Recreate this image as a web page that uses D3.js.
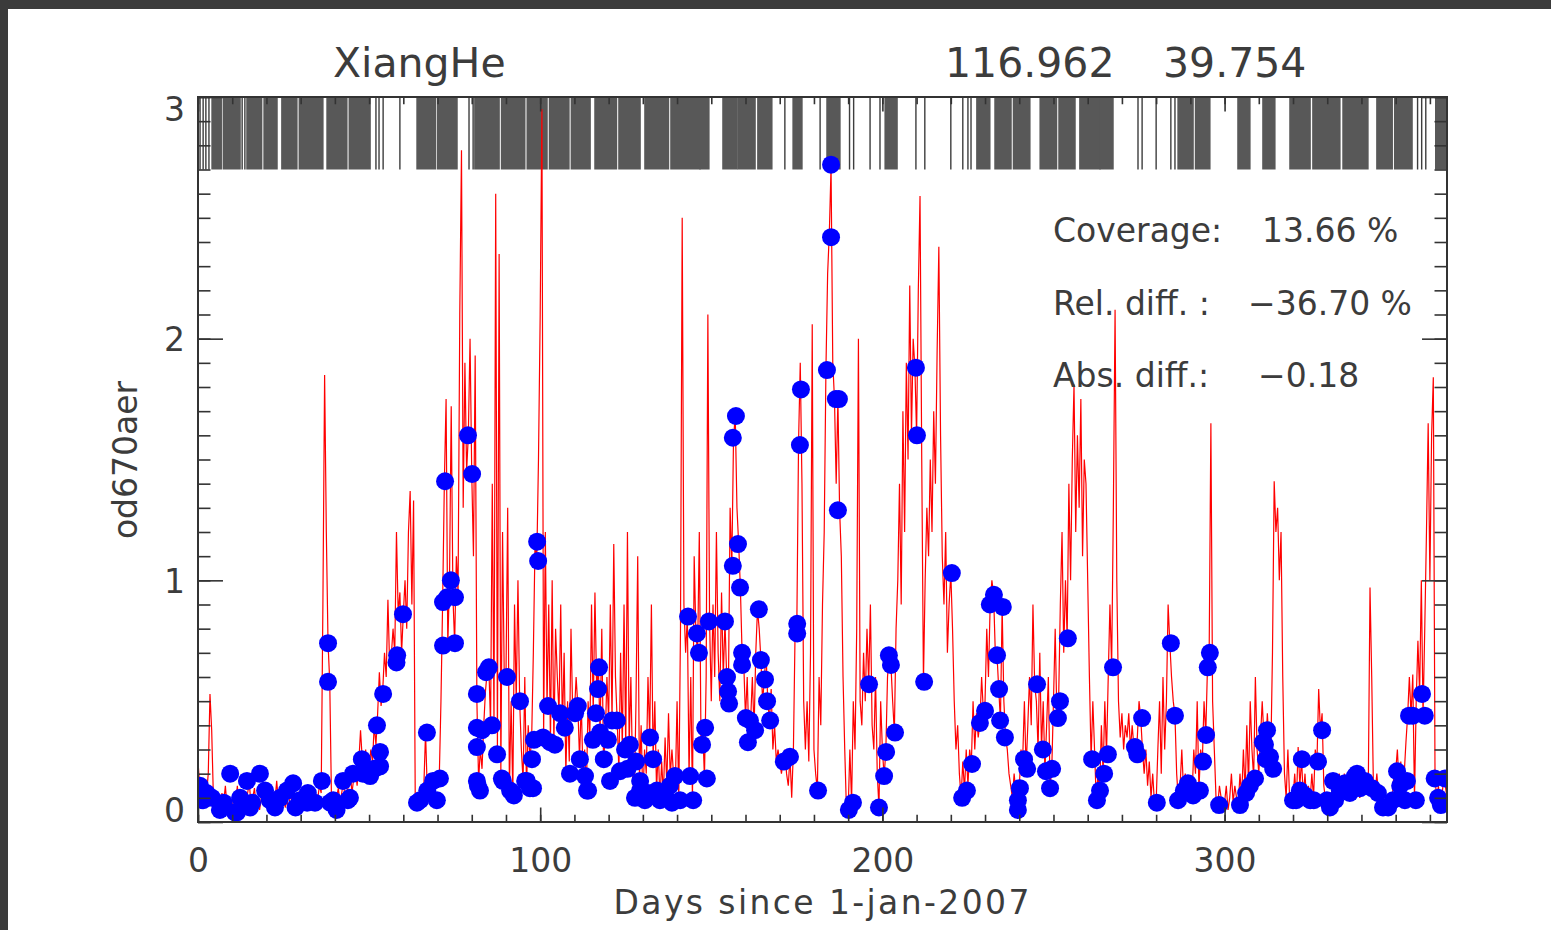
<!DOCTYPE html>
<html>
<head>
<meta charset="utf-8">
<script src="https://cdn.jsdelivr.net/npm/d3@7"></script>
<style>
body { margin: 0; background: #fff; }
text { font-family: "DejaVu Sans", sans-serif; fill: #3c3c3c; }
</style>
</head>
<body>
<svg width="1551" height="930"></svg>
<script>
// ---- data ----
var stationName = "XiangHe";
var stationCoords = ["116.962", "39.754"];
var xTitle = "Days since 1-jan-2007";
var yTitle = "od670aer";
var xTickValues = [0, 100, 200, 300];
var yTickValues = [0, 1, 2, 3];
var statLabels = ["Coverage:", "Rel. diff. :", "Abs. diff.:"];
var statValues = ["13.66 %", "\u221236.70 %", "\u22120.18"];

// model od670aer, one value every half day from day 0 to 365
var modelStep = 0.5;
var modelValues = [
0.25,0.15,0.12,0.14,0.10,0.12,0.20,0.53,0.38,0.10,0.08,0.06,0.10,0.05,0.12,0.08,0.15,0.06,0.10,0.08,
0.05,0.12,0.08,0.15,0.06,0.10,0.13,0.05,0.08,0.12,0.16,0.07,0.10,0.14,0.06,0.09,0.05,0.10,0.07,0.12,
0.08,0.05,0.10,0.06,0.12,0.09,0.17,0.08,0.12,0.07,0.10,0.06,0.09,0.05,0.12,0.08,0.10,0.06,0.09,0.12,
0.10,0.07,0.12,0.08,0.10,0.06,0.12,0.09,0.14,0.08,0.10,0.15,0.12,0.90,1.85,1.20,0.74,0.58,0.10,0.08,
0.06,0.10,0.14,0.08,0.12,0.17,0.09,0.12,0.15,0.20,0.12,0.18,0.22,0.15,0.25,0.38,0.26,0.20,0.30,0.18,
0.22,0.30,0.25,0.40,0.32,0.45,0.62,0.48,0.55,0.70,0.60,0.92,0.65,0.69,0.80,0.70,1.20,0.86,0.95,0.70,
0.86,1.00,0.80,1.20,1.37,0.90,1.33,0.05,0.08,0.06,0.12,0.09,0.15,0.37,0.13,0.20,0.17,0.10,0.09,0.15,
0.15,0.18,0.50,0.92,1.41,1.75,0.73,1.00,1.72,0.93,0.74,1.10,0.95,2.10,2.78,1.30,1.90,1.45,1.60,2.00,
1.44,1.10,1.93,0.50,0.17,0.30,0.22,0.40,0.54,0.62,0.64,0.40,1.40,0.40,2.60,0.30,2.35,0.20,1.20,0.60,
0.60,1.30,0.13,0.50,0.11,0.90,0.50,1.00,0.50,0.30,0.17,0.60,0.14,0.40,0.26,0.34,0.70,1.16,1.08,1.50,
2.10,2.95,0.35,1.20,0.48,0.90,0.33,1.00,0.32,0.80,0.60,0.45,0.90,0.39,0.70,0.20,0.50,0.25,0.80,0.45,
0.45,0.60,0.48,0.26,0.50,0.19,0.30,0.13,0.50,0.34,0.90,0.45,0.95,0.55,0.64,0.37,0.80,0.26,0.34,0.60,
0.42,0.90,0.42,1.15,0.60,0.42,0.21,0.70,0.30,0.90,0.30,1.20,0.32,0.60,0.20,0.10,0.50,1.10,0.17,0.40,
0.09,0.30,0.20,0.60,0.35,0.90,0.26,0.50,0.13,0.30,0.09,0.25,0.11,0.35,0.15,0.45,0.19,0.30,0.19,0.15,
0.50,0.09,0.80,2.50,0.90,0.70,0.85,0.19,0.60,0.09,1.10,0.78,0.70,1.20,0.32,0.39,0.18,0.60,2.10,0.83,
0.50,0.90,0.60,1.20,0.70,0.50,0.95,0.60,0.83,0.60,0.54,1.30,1.06,1.59,1.68,1.30,1.15,0.97,0.70,0.65,
0.43,0.60,0.33,0.42,0.60,0.38,0.70,0.88,0.80,0.67,0.50,0.59,0.70,0.50,0.42,0.55,0.30,0.40,0.25,0.30,
0.25,0.20,0.25,0.30,0.20,0.15,0.27,0.10,0.30,0.80,0.82,1.57,1.90,1.40,0.50,0.30,0.50,0.25,0.70,2.06,
0.30,0.20,0.13,0.60,0.40,0.90,1.20,1.87,2.27,2.44,2.71,1.90,1.75,1.40,1.75,1.29,1.10,0.60,0.30,0.05,
0.05,0.30,0.08,0.50,0.30,0.80,2.00,0.50,0.40,0.70,0.50,0.80,0.57,0.90,0.40,0.30,0.60,0.20,0.06,0.50,
0.30,0.19,0.29,0.60,0.69,0.65,0.50,0.37,0.80,1.00,1.40,0.90,1.70,1.20,1.90,1.50,2.22,1.60,2.00,1.88,
1.60,2.20,2.59,1.50,0.58,1.00,1.30,1.10,1.50,1.20,1.70,1.40,1.95,2.38,1.60,1.10,0.90,1.20,0.70,0.90,
1.03,0.80,0.50,0.30,0.40,0.20,0.10,0.25,0.13,0.30,0.15,0.30,0.24,0.50,0.30,0.45,0.35,0.41,0.60,0.46,
0.50,0.80,0.60,0.90,1.00,0.94,0.70,0.69,0.55,0.42,0.89,0.50,0.35,0.30,0.20,0.15,0.10,0.20,0.12,0.09,
0.14,0.30,0.26,0.50,0.22,0.40,0.60,0.40,0.90,0.57,0.50,0.30,0.70,0.30,0.50,0.21,0.40,0.60,0.14,0.22,
0.50,0.80,0.43,0.50,0.90,1.20,0.70,1.00,0.76,1.40,1.00,1.50,1.81,1.20,1.60,1.30,1.75,1.10,1.50,1.40,
1.00,0.60,0.26,0.50,0.30,0.09,0.20,0.13,0.40,0.20,0.50,0.28,0.60,0.90,0.64,1.30,2.12,1.00,0.50,0.35,
0.45,0.30,0.40,0.35,0.45,0.30,0.40,0.31,0.28,0.35,0.50,0.43,0.30,0.20,0.30,0.15,0.25,0.10,0.20,0.08,
0.08,0.30,0.50,0.20,0.60,0.30,0.50,0.90,0.74,0.60,0.50,0.44,0.20,0.09,0.15,0.30,0.13,0.20,0.16,0.10,
0.15,0.11,0.30,0.20,0.50,0.13,0.30,0.25,0.50,0.36,0.64,0.70,1.65,0.50,0.30,0.10,0.07,0.15,0.10,0.05,
0.08,0.15,0.05,0.10,0.20,0.08,0.15,0.10,0.07,0.20,0.10,0.30,0.12,0.40,0.15,0.50,0.30,0.18,0.60,0.30,
0.20,0.35,0.50,0.35,0.30,0.45,0.32,0.27,0.70,1.41,1.20,1.30,1.00,1.20,0.60,0.20,0.10,0.30,0.10,0.12,
0.10,0.20,0.09,0.31,0.15,0.26,0.10,0.20,0.08,0.15,0.09,0.20,0.10,0.30,0.25,0.55,0.38,0.45,0.15,0.09,
0.06,0.12,0.09,0.15,0.10,0.18,0.13,0.20,0.16,0.12,0.20,0.12,0.15,0.10,0.20,0.15,0.19,0.12,0.15,0.10,
0.14,0.17,0.12,0.20,0.15,0.97,0.60,0.14,0.12,0.20,0.10,0.07,0.12,0.06,0.10,0.05,0.09,0.05,0.10,0.20,
0.21,0.30,0.15,0.25,0.10,0.20,0.33,0.44,0.60,0.44,0.61,0.09,0.50,0.75,0.53,1.00,0.44,0.80,1.20,1.65,
1.00,1.60,1.84,0.18,0.10,0.15,0.07,0.10,0.18,0.15,0.10
];

// observations [day, od670aer]
var obsPoints = [
[0.6,0.15],[1.5,0.09],[2.5,0.12],[4.1,0.10],[6.4,0.05],[7.5,0.08],[9.4,0.20],[10.8,0.04],[11.4,0.04],
[12.3,0.10],[14.3,0.17],[15.2,0.06],[15.8,0.08],[18.1,0.20],[19.6,0.13],[21.0,0.09],[22.5,0.06],
[24.0,0.10],[26.0,0.13],[27.8,0.16],[28.5,0.06],[29.8,0.09],[31.9,0.08],[32.1,0.12],[34.2,0.08],
[36.2,0.17],[38.0,0.74],[38.0,0.58],[38.6,0.08],[39.5,0.09],[40.5,0.05],[42.4,0.17],[43.8,0.09],
[44.4,0.10],[45.3,0.20],[47.9,0.26],[48.2,0.20],[50.3,0.19],[51.5,0.22],[52.3,0.40],[53.2,0.29],
[53.2,0.23],[54.1,0.53],[58.2,0.69],[58.0,0.66],[59.9,0.86],
[64.0,0.08],[64.9,0.09],[66.9,0.37],[67.0,0.13],[68.7,0.17],[69.8,0.09],[70.7,0.18],[72.2,1.41],
[71.6,0.91],[72.8,0.93],[71.6,0.73],[73.9,1.00],[75.1,0.93],[75.1,0.74],[78.9,1.60],[80.1,1.44],
[81.5,0.53],[81.5,0.39],[81.5,0.31],[81.5,0.17],[81.8,0.15],[82.4,0.13],[83.0,0.38],[84.2,0.62],
[85.0,0.64],[85.9,0.40],[87.4,0.28],[88.8,0.18],[89.1,0.17],[90.3,0.60],[91.2,0.13],[92.1,0.12],
[92.3,0.11],[94.1,0.50],[95.6,0.17],[96.1,0.17],[97.0,0.14],[97.6,0.26],[97.9,0.14],[98.2,0.34],
[99.1,1.16],[99.4,1.08],[100.8,0.35],[102.3,0.48],[102.9,0.33],[104.3,0.32],[105.8,0.45],[107.2,0.39],
[108.7,0.20],[110.2,0.45],[111.0,0.48],[111.6,0.26],[113.1,0.19],[113.7,0.13],[114.0,0.13],[115.4,0.34],
[116.3,0.45],[116.9,0.55],[117.2,0.64],[117.5,0.37],[118.6,0.26],[119.8,0.34],[120.4,0.17],[121.0,0.42],
[122.4,0.42],[123.3,0.21],[124.8,0.30],[125.5,0.22],[126.2,0.32],[127.7,0.10],[128.0,0.25],[129.2,0.17],
[129.2,0.13],[130.6,0.09],[131.5,0.12],[132.1,0.35],[133.0,0.26],[134.1,0.13],[135.0,0.09],[136.5,0.11],
[137.9,0.15],[138.5,0.08],[139.4,0.19],[140.9,0.09],[143.2,0.85],[143.8,0.19],[144.7,0.09],[145.8,0.78],
[146.4,0.70],[147.3,0.32],[148.2,0.39],[148.7,0.18],[149.3,0.83],
[154.0,0.83],[154.6,0.60],[154.9,0.54],[155.2,0.49],[156.3,1.06],[157.2,1.68],[156.3,1.59],[157.8,1.15],
[158.4,0.97],[159.0,0.70],[159.0,0.65],[160.1,0.43],[160.7,0.33],[161.3,0.42],[162.8,0.38],[163.9,0.88],
[164.5,0.67],[165.7,0.59],[166.3,0.50],[167.2,0.42],[171.2,0.25],[173.0,0.27],[175.1,0.82],[175.1,0.78],
[175.9,1.56],[176.2,1.79],[181.2,0.13],[183.8,1.87],[185.0,2.72],[185.0,2.42],[186.4,1.75],[187.3,1.75],
[187.0,1.29],[190.2,0.05],[191.4,0.08],[196.1,0.57],[199.0,0.06],[200.5,0.19],[201.1,0.29],[201.9,0.69],
[202.5,0.65],[203.7,0.37],[209.8,1.88],[210.1,1.60],[212.2,0.58],[220.3,1.03],[223.3,0.10],[224.7,0.13],
[226.2,0.24],[228.5,0.41],[230.0,0.46],[231.4,0.90],[232.6,0.94],[233.5,0.69],[234.1,0.55],[234.4,0.42],
[235.2,0.89],[235.8,0.35],[239.6,0.09],[239.6,0.05],[240.2,0.14],[241.4,0.26],[242.3,0.22],[245.2,0.57],
[246.9,0.30],[247.8,0.21],[249.0,0.14],[249.6,0.22],[251.3,0.43],[251.9,0.50],[254.2,0.76],[261.3,0.26],
[262.7,0.09],[263.6,0.13],[264.8,0.20],[265.9,0.28],[267.4,0.64],[273.8,0.31],[274.5,0.28],[275.9,0.43],
[280.2,0.08],[284.3,0.74],[285.5,0.44],[286.4,0.09],[288.1,0.13],[289.3,0.16],[290.8,0.11],[292.8,0.13],
[293.7,0.25],[294.6,0.36],[295.1,0.64],[295.7,0.70],[298.4,0.07],[304.5,0.07],[306.3,0.12],[307.4,0.15],
[308.9,0.18],[311.2,0.33],[311.8,0.32],[312.4,0.38],[312.1,0.26],[313.3,0.27],[314.2,0.22],[320.0,0.09],
[320.9,0.09],[322.0,0.13],[322.6,0.26],[323.5,0.11],[325.0,0.09],[326.1,0.09],[327.3,0.25],[328.5,0.38],
[329.9,0.09],[330.8,0.06],[331.7,0.17],[332.3,0.09],[333.7,0.13],[335.2,0.16],[336.6,0.12],[338.1,0.19],
[338.7,0.20],[339.6,0.14],[341.0,0.17],[343.1,0.14],[344.8,0.12],[346.3,0.06],[347.8,0.06],[349.2,0.09],
[350.4,0.21],[351.3,0.15],[352.7,0.09],[353.3,0.17],[353.9,0.44],[355.0,0.44],[355.9,0.09],[357.7,0.53],
[358.5,0.44],[361.4,0.18],[362.4,0.10],[363.2,0.07],[364.4,0.18]
];

// days with measurements, shown as the strip along the top: [first day, last day]
var obsRuns = [
[0.6,0.6],[1.5,1.5],[2.3,2.3],[3.2,3.2],[4.1,6.8],[7.4,12.3],[12.9,12.9],[13.7,13.7],[14.3,18.6],
[19.3,23.1],[24.5,28.9],[29.6,36.5],[37.7,43.5],[44.2,50.3],[52.0,52.0],[52.9,52.9],[54.1,54.1],
[59.0,59.0],[64.0,69.4],[70.0,75.7],[79.2,79.2],[80.4,80.4],[80.9,88.0],[88.7,95.5],[96.2,102.0],
[102.7,108.4],[109.1,114.6],[116.0,122.3],[123.0,129.2],[130.6,137.5],[138.2,146.7],[146.7,149.3],
[153.4,157.5],[157.8,162.8],[163.6,167.7],[171.5,171.5],[173.9,176.5],[181.8,181.8],[183.8,187.6],
[190.4,190.4],[191.6,191.6],[196.4,196.4],[199.3,199.3],[200.8,204.3],[209.8,209.8],[212.4,212.4],
[220.0,220.0],[223.5,223.5],[225.0,225.0],[225.9,225.9],[227.6,231.4],[232.9,237.6],[238.3,243.1],
[246.1,250.9],[251.6,256.3],[257.7,263.6],[263.6,267.4],[274.7,274.7],[275.9,275.9],[280.0,280.0],
[284.3,284.3],[285.5,285.5],[286.4,290.8],[291.5,295.7],[303.9,307.4],[311.2,314.7],[319.1,325.0],
[325.8,333.7],[334.6,341.9],[344.5,349.0],[349.7,354.8],[356.4,356.4],[357.6,357.6],[358.8,358.8],
[361.7,365.0]
];

// ---- layout ----
var svg = d3.select("svg"),
    width = +svg.attr("width"),
    height = +svg.attr("height");

var boxLeft = 198, boxRight = 1447, boxTop = 97, boxBottom = 822;

var x = d3.scaleLinear().domain([0, 365]).range([boxLeft, boxRight]);
var y = d3.scaleLinear().domain([0, 3]).range([boxBottom, boxTop]);

// dark frame of the screenshot
svg.append("rect").attr("width", width).attr("height", height).attr("fill", "#3b3b3b");
svg.append("rect").attr("x", 8).attr("y", 9).attr("width", width - 8).attr("height", height - 9).attr("fill", "#fff");

svg.append("clipPath").attr("id", "plotclip")
  .append("rect").attr("x", boxLeft).attr("y", boxTop)
  .attr("width", boxRight - boxLeft).attr("height", boxBottom - boxTop);

var plot = svg.append("g").attr("clip-path", "url(#plotclip)");

// measurement strip
plot.append("g").selectAll("rect")
  .data(obsRuns)
  .enter().append("rect")
    .attr("x", d => x(d[0]) - 0.7)
    .attr("width", d => Math.max(1.4, x(d[1]) - x(d[0]) + 1.4))
    .attr("y", y(3))
    .attr("height", y(2.7) - y(3))
    .attr("fill", d => d[1] > d[0] ? "#585858" : "#3e3e3e");

// model line
var line = d3.line()
  .x((v, i) => x(i * modelStep))
  .y(v => y(v));

plot.append("path")
  .datum(modelValues)
  .attr("fill", "none")
  .attr("stroke", "#ff0000")
  .attr("stroke-width", 1.2)
  .attr("d", line);

// observations
plot.append("g").selectAll("circle")
  .data(obsPoints)
  .enter().append("circle")
    .attr("cx", d => x(d[0]))
    .attr("cy", d => y(d[1]))
    .attr("r", 9)
    .attr("fill", "#0000ff");

// ---- axes ----
var tickFont = 33;
var xMajor = 0.02 * (boxBottom - boxTop), yMajor = 0.02 * (boxRight - boxLeft);

function styleAxis(g) {
  g.select(".domain").remove();
  g.selectAll("line").attr("stroke", "#333").attr("stroke-width", 1.6);
  g.selectAll("text").style("font-family", "DejaVu Sans").attr("font-size", tickFont).attr("fill", "#3c3c3c");
}

var xMinor = d3.range(0, 366, 10);
svg.append("g").attr("transform", "translate(0," + boxBottom + ")")
  .call(d3.axisBottom(x).tickValues(xMinor).tickSize(-xMajor / 2).tickFormat(""))
  .call(styleAxis);
svg.append("g").attr("transform", "translate(0," + boxTop + ")")
  .call(d3.axisTop(x).tickValues(xMinor).tickSize(-xMajor / 2).tickFormat(""))
  .call(styleAxis);
svg.append("g").attr("transform", "translate(0," + boxBottom + ")")
  .call(d3.axisBottom(x).tickValues(xTickValues).tickSize(-xMajor).tickFormat(d3.format("d")))
  .call(styleAxis)
  .selectAll("text").attr("y", 50).attr("dy", null);
svg.append("g").attr("transform", "translate(0," + boxTop + ")")
  .call(d3.axisTop(x).tickValues(xTickValues).tickSize(-xMajor).tickFormat(""))
  .call(styleAxis);

var yMinor = d3.range(0, 31).map(i => i / 10);
svg.append("g").attr("transform", "translate(" + boxLeft + ",0)")
  .call(d3.axisLeft(y).tickValues(yMinor).tickSize(-yMajor / 2).tickFormat(""))
  .call(styleAxis);
svg.append("g").attr("transform", "translate(" + boxRight + ",0)")
  .call(d3.axisRight(y).tickValues(yMinor).tickSize(-yMajor / 2).tickFormat(""))
  .call(styleAxis);
svg.append("g").attr("transform", "translate(" + boxLeft + ",0)")
  .call(d3.axisLeft(y).tickValues(yTickValues).tickSize(-yMajor).tickPadding(13).tickFormat(d3.format("d")))
  .call(styleAxis)
  .selectAll("text")
    .attr("dy", "0.36em")
    .attr("y", d => d === 3 ? 12 : d === 0 ? -12 : 0);
svg.append("g").attr("transform", "translate(" + boxRight + ",0)")
  .call(d3.axisRight(y).tickValues(yTickValues).tickSize(-yMajor).tickFormat(""))
  .call(styleAxis);

// plot box
svg.append("rect")
  .attr("x", boxLeft).attr("y", boxTop)
  .attr("width", boxRight - boxLeft).attr("height", boxBottom - boxTop)
  .attr("fill", "none").attr("stroke", "#333").attr("stroke-width", 2);

// ---- texts ----
svg.append("text").attr("x", 333).attr("y", 77).attr("font-size", 41).text(stationName);
svg.append("g").selectAll("text")
  .data(stationCoords)
  .enter().append("text")
    .attr("x", (d, i) => [945, 1163][i])
    .attr("y", 77)
    .attr("font-size", 41)
    .text(d => d);

svg.append("text")
  .attr("x", (boxLeft + boxRight) / 2 - 1).attr("y", 914)
  .attr("text-anchor", "middle").attr("font-size", tickFont)
  .attr("textLength", 416).attr("lengthAdjust", "spacing")
  .text(xTitle);

svg.append("text")
  .attr("transform", "translate(137,460) rotate(-90)")
  .attr("text-anchor", "middle").attr("font-size", tickFont)
  .text(yTitle);

var statBase = [242, 315, 387], statValueX = [1262, 1248, 1258];
var stats = svg.append("g");
stats.selectAll("text.lab")
  .data(statLabels)
  .enter().append("text")
    .attr("class", "lab")
    .attr("x", 1053).attr("y", (d, i) => statBase[i])
    .attr("font-size", tickFont)
    .text(d => d);
stats.selectAll("text.val")
  .data(statValues)
  .enter().append("text")
    .attr("class", "val")
    .attr("x", (d, i) => statValueX[i]).attr("y", (d, i) => statBase[i])
    .attr("font-size", tickFont)
    .text(d => d);
</script>
</body>
</html>
